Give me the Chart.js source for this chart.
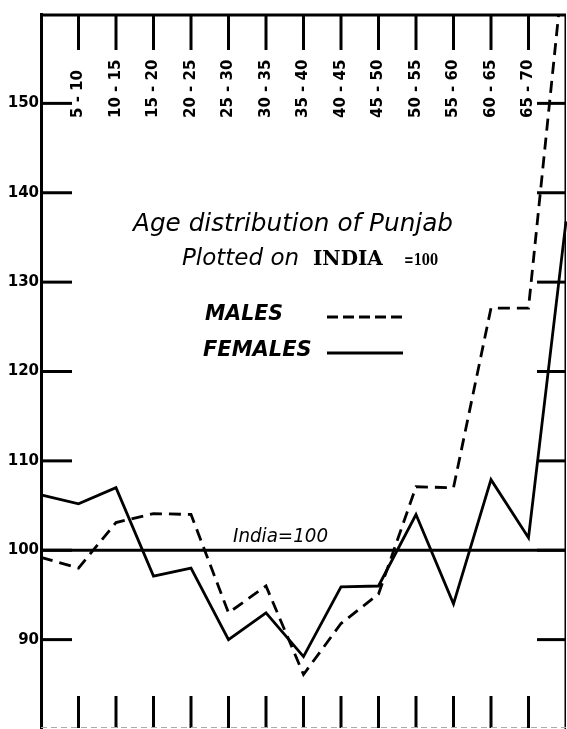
<!DOCTYPE html>
<html>
<head>
<meta charset="utf-8">
<title>Age distribution of Punjab</title>
<script src="https://cdn.jsdelivr.net/npm/chart.js@4.4.1/dist/chart.umd.min.js"></script>
<style>
  html, body { margin: 0; padding: 0; background: #fff; }
  canvas { display: block; }
</style>
</head>
<body>
<canvas id="ageChart" width="567" height="729"></canvas>
<script>
// age groups, blank at both ends (the edges of the frame carry no label)
const ageGroups = ['', '5 - 10', '10 - 15', '15 - 20', '20 - 25', '25 - 30', '30 - 35', '35 - 40',
  '40 - 45', '45 - 50', '50 - 55', '55 - 60', '60 - 65', '65 - 70', ''];
// Punjab plotted on India = 100
const males = [99.2, 98.0, 103.1, 104.1, 104.0, 93.0, 96.0, 86.1, 91.8, 95.1, 107.1, 107.0, 127.1, 127.1, 168];
const females = [106.2, 105.2, 107.0, 97.1, 98.0, 90.0, 93.0, 88.1, 95.9, 96.0, 104.0, 94.0, 107.9, 101.4, 136.8];
const yTicks = [90, 100, 110, 120, 130, 140, 150];
const indiaBase = 100;

const SANS = '"DejaVu Sans", sans-serif';
const SERIF = '"DejaVu Serif", serif';

function seg(ctx, x1, y1, x2, y2) {
  ctx.beginPath();
  ctx.moveTo(x1, y1);
  ctx.lineTo(x2, y2);
  ctx.stroke();
}

const frame = {
  id: 'frame',
  beforeDatasetsDraw(chart) {
    const { ctx, chartArea: a, scales: { x, y } } = chart;
    ctx.save();
    ctx.strokeStyle = '#000';
    ctx.lineWidth = 3;
    seg(ctx, a.left, a.top + 1, a.right, a.top + 1);
    const yIndia = y.getPixelForValue(indiaBase);
    seg(ctx, a.left, yIndia, a.right, yIndia);
    yTicks.forEach(v => {
      const py = y.getPixelForValue(v);
      seg(ctx, a.left, py, a.left + 31, py);
      seg(ctx, a.right - 29, py, a.right, py);
    });
    ageGroups.forEach((g, i) => {
      if (!g) return;
      const px = x.getPixelForValue(i);
      seg(ctx, px, a.top, px, a.top + 36);
      seg(ctx, px, a.bottom - 33, px, a.bottom - 1);
    });
    ctx.lineWidth = 1.5;
    seg(ctx, a.right - 0.75, a.top, a.right - 0.75, a.bottom);
    ctx.strokeStyle = '#aaa';
    ctx.lineWidth = 1;
    ctx.setLineDash([6, 4]);
    seg(ctx, a.left, a.bottom - 1.5, a.right, a.bottom - 1.5);
    ctx.restore();
  },
  afterDraw(chart) {
    const { ctx, chartArea: a, scales: { x } } = chart;
    ctx.save();
    ctx.fillStyle = '#000';
    ctx.strokeStyle = '#000';

    // age group labels, rotated, inside the top of the frame
    ctx.font = 'bold 15px ' + SANS;
    ctx.textAlign = 'left';
    ctx.textBaseline = 'middle';
    ageGroups.forEach((g, i) => {
      if (!g) return;
      ctx.save();
      ctx.translate(x.getPixelForValue(i), a.top + 104);
      ctx.rotate(-Math.PI / 2);
      ctx.fillText(g, 0, 0, 64);
      ctx.restore();
    });

    ctx.textBaseline = 'alphabetic';
    ctx.font = 'italic 25px ' + SANS;
    ctx.fillText('Age distribution of Punjab', 133, 231, 320);
    ctx.font = 'italic 23px ' + SANS;
    ctx.fillText('Plotted on', 182, 265, 123);
    ctx.font = 'bold 20px ' + SERIF;
    ctx.fillText('INDIA', 313, 265, 90);
    ctx.font = 'bold 17px ' + SERIF;
    ctx.fillText('=100', 404, 265, 34);

    // legend
    ctx.font = 'italic bold 21px ' + SANS;
    ctx.fillText('MALES', 205, 320, 78);
    ctx.fillText('FEMALES', 203, 356, 110);
    ctx.lineWidth = 3;
    ctx.setLineDash([11, 5]);
    seg(ctx, 327, 317, 403, 317);
    ctx.setLineDash([]);
    seg(ctx, 327, 353, 403, 353);

    ctx.font = 'italic 20px ' + SANS;
    ctx.fillText('India=100', 233, 542, 95);
    ctx.restore();
  }
};

new Chart(document.getElementById('ageChart'), {
  type: 'line',
  data: {
    labels: ageGroups,
    datasets: [
      {
        label: 'MALES',
        data: males,
        borderColor: '#000',
        borderWidth: 2.8,
        borderDash: [12, 7],
        pointRadius: 0,
        tension: 0,
        fill: false
      },
      {
        label: 'FEMALES',
        data: females,
        borderColor: '#000',
        borderWidth: 2.8,
        pointRadius: 0,
        tension: 0,
        fill: false
      }
    ]
  },
  options: {
    responsive: false,
    animation: false,
    layout: { padding: { top: 14, right: 1, bottom: 0, left: 0 } },
    plugins: {
      legend: { display: false },
      tooltip: { enabled: false }
    },
    scales: {
      x: { display: false, offset: false },
      y: {
        min: 80,
        max: 160,
        afterBuildTicks: scale => { scale.ticks = yTicks.map(v => ({ value: v })); },
        afterFit: scale => {
          scale.width = 41;
          scale.paddingTop = 0;
          scale.paddingBottom = 0;
        },
        grid: { display: false, drawTicks: false },
        border: { display: true, color: '#000', width: 3 },
        ticks: {
          color: '#000',
          padding: 2,
          font: { family: 'DejaVu Sans', size: 15, weight: 'bold' }
        }
      }
    }
  },
  plugins: [frame]
});
</script>
</body>
</html>
